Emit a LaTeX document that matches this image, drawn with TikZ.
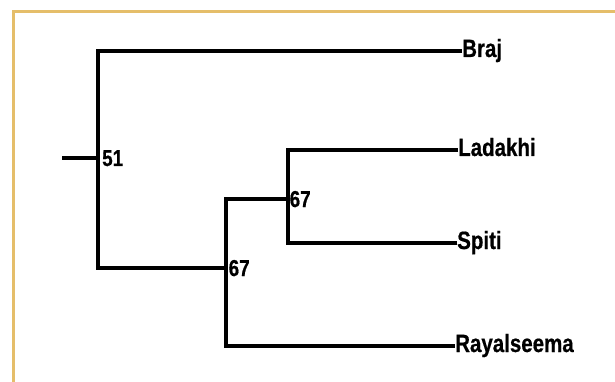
\documentclass[tikz,border=0pt]{standalone}
\usepackage{fontspec}
\setmainfont{Liberation Sans}[FakeStretch=0.82]
\newfontfamily\labelfont{Liberation Sans}[FakeStretch=0.82, BoldFeatures={FakeBold=0.6}]
\definecolor{framegold}{RGB}{229,190,106}
\begin{document}
\begin{tikzpicture}[x=1pt,y=-1pt,
  branch/.style={line width=3.4pt, line join=miter},
  leaf/.style={anchor=west, inner sep=0pt, text height=18pt, text depth=6pt,
    font=\labelfont\fontsize{25}{25}\selectfont\bfseries},
  support/.style={anchor=west, inner sep=0pt, text height=16pt, text depth=0pt,
    font=\labelfont\fontsize{23}{23}\selectfont\bfseries}]
\useasboundingbox (0,0) rectangle (615,382);
\draw[framegold, line width=3pt] (13,382) -- (13,12) -- (615,12);

\coordinate (root) at (62,158);
\coordinate (n51) at (98,158);
\coordinate (n67a) at (226,268);
\coordinate (n67b) at (288,199);

\node[leaf] (braj) at (462,51) {Braj};
\node[leaf] (ladakhi) at (458,150) {Ladakhi};
\node[leaf] (spiti) at (457,243) {Spiti};
\node[leaf] (rayal) at (455,346) {Rayalseema};

\draw[branch] (root) -- (n51);
\draw[branch] (braj.west) -| (n51) |- (n67a);
\draw[branch] (ladakhi.west) -| (n67b) |- (spiti.west);
\draw[branch] (n67b) -| (n67a) |- (rayal.west);

\node[support] (s51) at (102,158) {51};
\node[support] (s67a) at (228.5,268) {67};
\node[support] (s67b) at (289.5,199) {67};
\end{tikzpicture}
\end{document}
